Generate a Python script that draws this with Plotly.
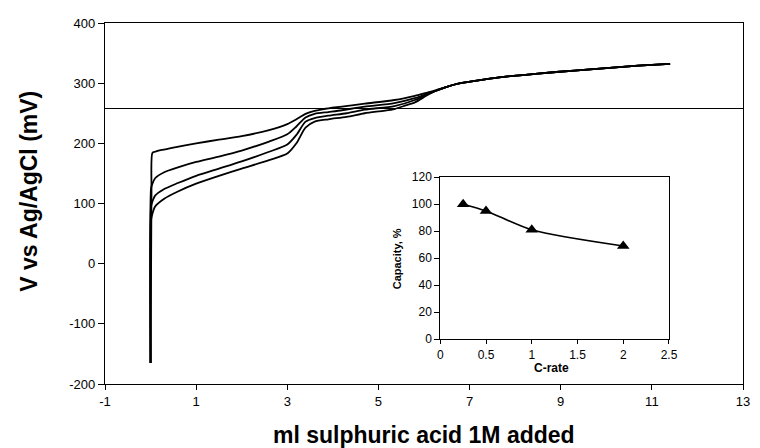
import plotly.graph_objects as go

# ---- main titration curves (ml acid vs mV) ----
tail_x = [6.8, 7.3, 7.8, 8.5, 9.3, 10.0, 10.7, 11.4]
tail_y = [300, 306, 311, 316, 321, 325, 329, 332]

c1_x = [0, 0.02, 0.04, 0.1, 0.25, 0.5, 1.0, 1.5, 2.0, 2.6, 3.0, 3.2, 3.4, 3.6, 3.8, 4.2, 4.7, 5.35, 5.8, 6.05, 6.25, 6.5] + tail_x
c1_y = [-165, 120, 184, 186, 189, 193, 200, 206, 212, 222, 232, 240, 249, 254, 257, 261, 266, 272, 279, 284, 288, 294] + tail_y

c2_x = [0, 0.01, 0.03, 0.1, 0.3, 0.6, 1.0, 1.5, 2.0, 2.6, 3.0, 3.2, 3.4, 3.6, 3.9, 4.2, 4.7, 5.35, 5.8, 6.05, 6.25, 6.5] + tail_x
c2_y = [-165, 125, 131, 142, 152, 160, 169, 178, 188, 203, 215, 228, 243, 249, 252, 255, 261, 267, 275, 282, 287, 294] + tail_y

c3_x = [0, 0.01, 0.03, 0.1, 0.3, 0.6, 1.0, 1.5, 2.0, 2.6, 3.0, 3.2, 3.4, 3.6, 3.9, 4.3, 4.7, 5.35, 5.8, 6.05, 6.25, 6.5] + tail_x
c3_y = [-165, 95, 101, 113, 124, 134, 146, 158, 170, 186, 198, 214, 236, 242, 246, 250, 256, 262, 272, 281, 287, 294] + tail_y

c4_x = [0, 0.01, 0.03, 0.1, 0.3, 0.6, 1.0, 1.5, 2.0, 2.6, 3.0, 3.2, 3.4, 3.6, 3.9, 4.3, 4.7, 5.1, 5.35, 5.6, 5.8, 6.05, 6.25, 6.5] + tail_x
c4_y = [-165, 72, 80, 95, 108, 120, 133, 146, 158, 172, 183, 200, 226, 236, 240, 244, 250, 254, 257, 263, 268, 279, 287, 294] + tail_y

ref_x = [-1, 13]
ref_y = [258, 258]

# ---- inset: capacity vs C-rate ----
crate = [0.25, 0.5, 1.0, 2.0]
capacity = [100, 95, 81, 69]

x_ticks = [-1, 1, 3, 5, 7, 9, 11, 13]
x_labels = ["-1", "1", "3", "5", "7", "9", "11", "13"]
y_ticks = [-200, -100, 0, 100, 200, 300, 400]
y_labels = ["-200", "-100", "0", "100", "200", "300", "400"]
in_x_ticks = [0, 0.5, 1, 1.5, 2, 2.5]
in_x_labels = ["0", "0.5", "1", "1.5", "2", "2.5"]
in_y_ticks = [0, 20, 40, 60, 80, 100, 120]

FONT = "Liberation Sans, Arial, Helvetica, sans-serif"

fig = go.Figure()
for xs, ys in [(c1_x, c1_y), (c2_x, c2_y), (c3_x, c3_y), (c4_x, c4_y)]:
    fig.add_trace(go.Scatter(x=xs, y=ys, mode="lines",
                             line=dict(color="black", width=1.8, shape="spline", smoothing=0.7),
                             showlegend=False, hoverinfo="skip"))
fig.add_trace(go.Scatter(x=ref_x, y=ref_y, mode="lines",
                         line=dict(color="black", width=1.1),
                         showlegend=False, hoverinfo="skip"))

fig.add_trace(go.Scatter(x=crate, y=capacity, mode="lines+markers", xaxis="x2", yaxis="y2",
                         line=dict(color="black", width=1.6, shape="spline", smoothing=0.8),
                         marker=dict(symbol="triangle-up", size=11, color="black"),
                         showlegend=False, hoverinfo="skip"))

axis_common = dict(showgrid=False, zeroline=False, showline=True, linecolor="black",
                   ticks="outside", tickcolor="black", mirror=True)

# page has an 8px body margin, so the figure is 752x440 with offsets removed
fig.update_layout(
    width=752, height=440,
    margin=dict(l=97, r=8, t=8, b=64),
    paper_bgcolor="white", plot_bgcolor="white",
    font=dict(family=FONT, color="black"),
    xaxis=dict(range=[-1, 13], tickvals=x_ticks, ticktext=x_labels, ticklen=5, linewidth=1.4,
               tickfont=dict(size=13), **axis_common),
    yaxis=dict(range=[-200, 400], tickvals=y_ticks, ticktext=y_labels, ticklen=6, linewidth=1.4,
               tickfont=dict(size=13), **axis_common),
    xaxis2=dict(domain=[0.5255, 0.884], anchor="y2", range=[0, 2.5], tickvals=in_x_ticks,
                ticktext=in_x_labels, ticklen=4, linewidth=1, tickfont=dict(size=12), **axis_common),
    yaxis2=dict(domain=[0.124, 0.573], anchor="x2", range=[0, 120], tickvals=in_y_ticks,
                ticklen=5, linewidth=1, tickfont=dict(size=12), **axis_common),
    annotations=[
        dict(text="<b>ml sulphuric acid 1M added</b>", xref="paper", yref="paper",
             x=(428 - 105) / 647, y=(384 - 436) / 368, showarrow=False,
             font=dict(size=23, family=FONT), xanchor="center", yanchor="middle"),
        dict(text="<b>V vs Ag/AgCl (mV)</b>", xref="paper", yref="paper",
             x=(28 - 105) / 647, y=(384 - 188) / 368, showarrow=False, textangle=-90,
             font=dict(size=23, family=FONT), xanchor="center", yanchor="middle"),
        dict(text="<b>C-rate</b>", xref="paper", yref="paper",
             x=(558 - 105) / 647, y=(384 - 368) / 368, showarrow=False,
             font=dict(size=12, family=FONT), xanchor="center", yanchor="middle"),
        dict(text="<b>Capacity, %</b>", xref="paper", yref="paper",
             x=(402 - 105) / 647, y=(384 - 256) / 368, showarrow=False, textangle=-90,
             font=dict(size=11, family=FONT), xanchor="center", yanchor="middle"),
    ],
)

fig.write_html("out.html")
